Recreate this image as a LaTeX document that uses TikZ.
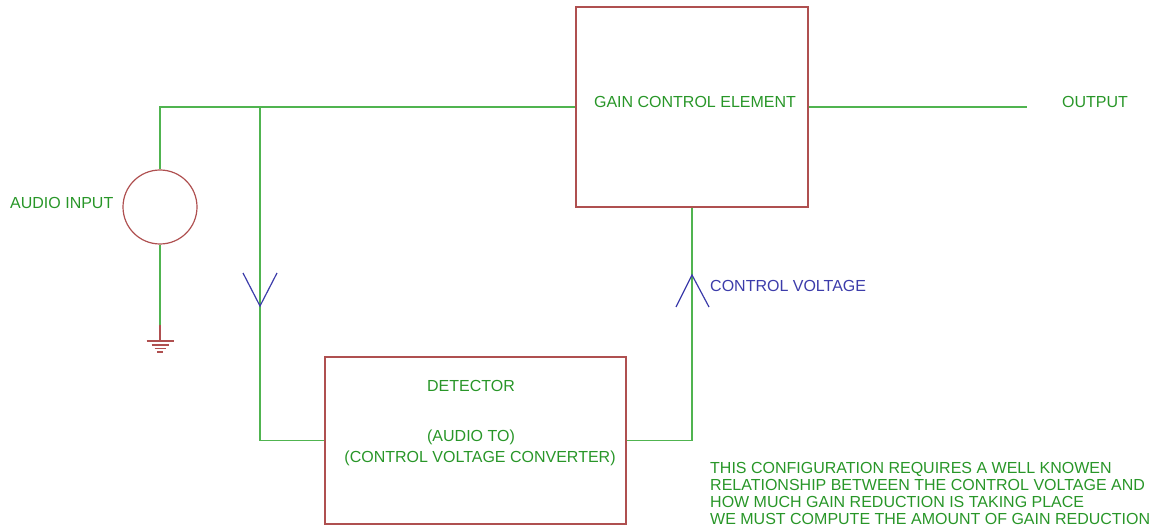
\documentclass[tikz,border=0pt]{standalone}
\usepackage{fontspec}
\setmainfont{Liberation Sans}
\definecolor{wire}{RGB}{80,180,80}
\definecolor{txt}{RGB}{40,150,40}
\definecolor{part}{RGB}{175,80,80}
\definecolor{sig}{RGB}{60,60,170}
\begin{document}
\begin{tikzpicture}[x=1pt, y=-1pt]
        \tikzstyle{every node}=[font=\fontsize{16}{17}\selectfont, text=txt, inner sep=0pt]
        \tikzstyle{block}=[draw=part, line width=1.2pt]
        \tikzstyle{conn}=[draw=wire, line width=1.2pt]
        \useasboundingbox (0,0) rectangle (1167,529);

        \node (gain) [block, minimum width=232pt, minimum height=200pt] at (692,107) {};
        \node (det)  [block, minimum width=301pt, minimum height=167pt] at (475.5,440.5) {};
        \node (src)  [block, circle, minimum size=74pt] at (160,207) {};

        \coordinate (top)  at (160,107);
        \coordinate (jn)   at (260,107);
        \coordinate (out)  at (1027,107);
        \coordinate (gnd)  at (160,325);
        \coordinate (gbar) at (160,341);
        \coordinate (dtip) at (260,306);
        \coordinate (utip) at (692,275);

        \draw[conn] (src.north) -- (top) -- (gain.west);
        \draw[conn] (jn) |- (det.west);
        \draw[conn] (det.east) -| (gain.south);
        \draw[conn] (gain.east) -- (out);
        \draw[conn] (src.south) -- (gnd);

        % ground
        \draw[block] (gnd) -- (gbar);
        \foreach \w/\dy in {13.5/0, 8.5/4, 5.5/7.5, 3/11}
            \draw[part, line width=1.2pt] (gbar) ++(-\w,\dy) -- ++(2*\w,0);

        % signal direction marks
        \draw[sig, line width=1.2pt] (dtip) ++(-17,-33) -- (dtip) -- ++(17,-33);
        \draw[sig, line width=1.2pt] (utip) ++(-16,32) -- (utip) -- ++(17,32);

        \node (gaintxt) at (695,102) {GAIN CONTROL ELEMENT};
        \node (outtxt)  at (1095,102) {OUTPUT};
        \node (intxt)   [anchor=west] at (10,203) {AUDIO INPUT};
        \node (dettxt)  at (471,386) {DETECTOR};
        \node (conv1)   at (471,437) {(AUDIO TO)};
        \node (conv2)   at (480,458) {(CONTROL VOLTAGE CONVERTER)};
        \node (cvtxt)   [anchor=west, text=sig] at (710,286) {CONTROL VOLTAGE};
        \node (note)    [anchor=north west, align=left] at (710,462)
            {THIS CONFIGURATION REQUIRES A WELL KNOWEN\\
             RELATIONSHIP BETWEEN THE CONTROL VOLTAGE AND\\
             HOW MUCH GAIN REDUCTION IS TAKING PLACE\\
             WE MUST COMPUTE THE AMOUNT OF GAIN REDUCTION};
\end{tikzpicture}
\end{document}
